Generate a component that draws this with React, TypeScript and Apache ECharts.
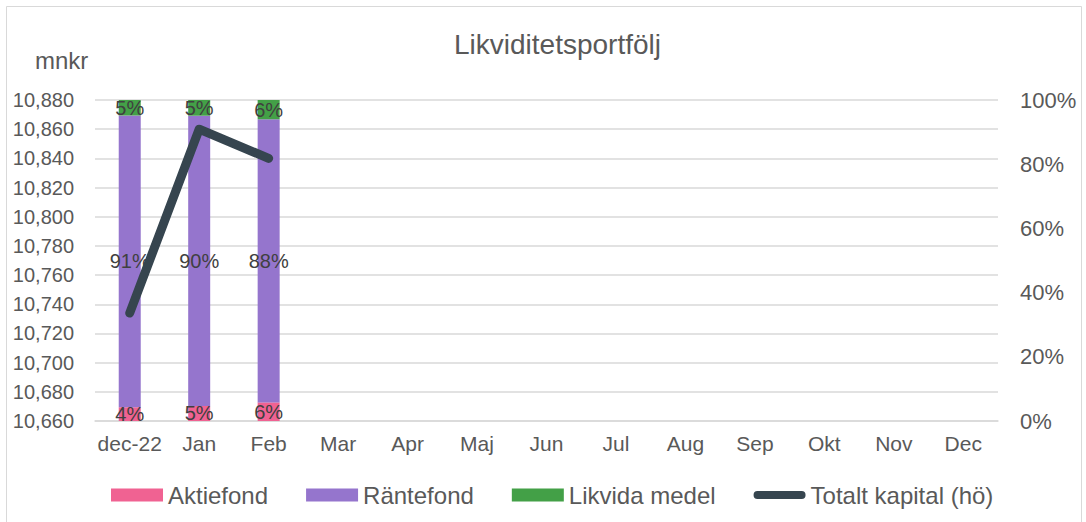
import React, { useEffect, useRef } from "react";
import * as echarts from "echarts";

const categories = ["dec-22", "Jan", "Feb", "Mar", "Apr", "Maj", "Jun", "Jul", "Aug", "Sep", "Okt", "Nov", "Dec"];
const aktiefond = [4.3, 4.7, 5.8];
const rantefond = [90.9, 90.4, 88.2];
const likvida = [4.8, 4.9, 6.0];
const totaltKapital = [10734, 10860, 10840];
const leftTicks = { min: 10660, max: 10880, interval: 20 };
const rightTicks = { min: 0, max: 100, interval: 20 };

const TEXT = "#595959";
const FONT = "'Liberation Sans', Arial, sans-serif";
const LINE_COLOR = "#36454F";

export default function App() {
  const ref = useRef<HTMLDivElement>(null);
  useEffect(() => {
    document.body.style.margin = "0";
    const chart = echarts.init(ref.current!, null, { renderer: "svg" });
    const label = {
      show: true,
      position: "inside",
      fontSize: 20,
      color: "#404040",
      fontFamily: FONT,
      formatter: (p: any) => Math.round(p.value) + "%",
    };
    chart.setOption({
      animation: false,
      textStyle: { fontFamily: FONT },
      title: {
        text: "Likviditetsportfölj",
        left: 449,
        top: 25,
        textStyle: { fontSize: 28, fontWeight: "normal", color: TEXT, fontFamily: FONT },
      },
      graphic: [
        {
          type: "rect",
          shape: { x: 6.5, y: 6.5, width: 1075, height: 516 },
          style: { fill: "none", stroke: "#D9D9D9", lineWidth: 1 },
          silent: true,
        },
        {
          type: "text",
          left: 35,
          top: 48,
          style: { text: "mnkr", fontSize: 24, fill: TEXT, fontFamily: FONT },
        },
      ],
      legend: {
        left: 106,
        top: 478,
        itemWidth: 52,
        itemHeight: 13,
        itemGap: 38,
        textStyle: { fontSize: 24, color: TEXT, fontFamily: FONT },
        data: [
          { name: "Aktiefond", icon: "rect" },
          { name: "Räntefond", icon: "rect" },
          { name: "Likvida medel", icon: "rect" },
          {
            name: "Totalt kapital (hö)",
            icon: "path://M4.5,0 H55.5 A4.5,4.5 0 0 1 55.5,9 H4.5 A4.5,4.5 0 0 1 4.5,0 Z",
            itemStyle: { color: LINE_COLOR },
            lineStyle: { opacity: 0 },
          },
        ],
      },
      grid: { left: 95, right: 88, top: 100, bottom: 101 },
      xAxis: {
        type: "category",
        data: categories,
        axisTick: { show: false },
        axisLine: { show: true, lineStyle: { color: "#D9D9D9", width: 1.5 } },
        axisLabel: { fontSize: 21, color: TEXT, margin: 12, fontFamily: FONT, interval: 0 },
      },
      yAxis: [
        {
          type: "value",
          min: leftTicks.min,
          max: leftTicks.max,
          interval: leftTicks.interval,
          axisLine: { show: false },
          axisTick: { show: false },
          splitLine: { show: true, lineStyle: { color: "#D9D9D9", width: 1.5 } },
          axisLabel: {
            fontSize: 20,
            color: TEXT,
            margin: 21,
            fontFamily: FONT,
            formatter: (v: number) => v.toLocaleString("en-US"),
          },
        },
        {
          type: "value",
          min: rightTicks.min,
          max: rightTicks.max,
          interval: rightTicks.interval,
          axisLine: { show: false },
          axisTick: { show: false },
          splitLine: { show: false },
          axisLabel: { fontSize: 22, color: TEXT, margin: 22, fontFamily: FONT, formatter: "{value}%" },
        },
      ],
      series: [
        {
          name: "Aktiefond",
          type: "bar",
          stack: "p",
          yAxisIndex: 1,
          barWidth: 22,
          data: aktiefond,
          itemStyle: { color: "#F06292" },
          label,
        },
        {
          name: "Räntefond",
          type: "bar",
          stack: "p",
          yAxisIndex: 1,
          barWidth: 22,
          data: rantefond,
          itemStyle: { color: "#9575CD" },
          label,
        },
        {
          name: "Likvida medel",
          type: "bar",
          stack: "p",
          yAxisIndex: 1,
          barWidth: 22,
          data: likvida,
          itemStyle: { color: "#43A047" },
          label,
        },
        {
          name: "Totalt kapital (hö)",
          type: "line",
          yAxisIndex: 0,
          data: totaltKapital,
          symbol: "none",
          showSymbol: false,
          lineStyle: { color: LINE_COLOR, width: 9, cap: "round", join: "round" },
          itemStyle: { color: LINE_COLOR },
        },
      ],
    });
    return () => chart.dispose();
  }, []);
  return <div ref={ref} style={{ width: 1086, height: 522 }} />;
}
